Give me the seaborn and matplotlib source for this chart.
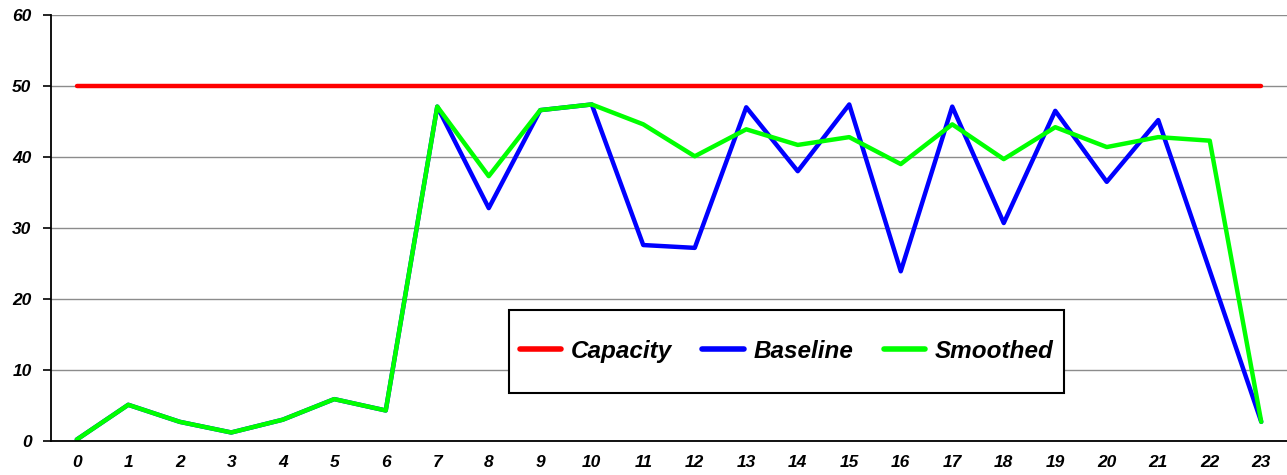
import numpy as np
import pandas as pd
import seaborn as sns
import matplotlib.pyplot as plt
from matplotlib.patches import Rectangle
from matplotlib.ticker import MultipleLocator, FixedLocator

# Values
hours = list(range(24))
capacity = [50] * 24
baseline = [0.2, 5.1, 2.7, 1.2, 3.0, 5.9, 4.3, 47.1, 32.8, 46.6, 47.4, 27.6,
            27.2, 47.0, 38.0, 47.4, 23.9, 47.1, 30.7, 46.5, 36.5, 45.2, 24.0, 2.7]
smoothed = [0.2, 5.1, 2.7, 1.2, 3.0, 5.9, 4.3, 47.1, 37.3, 46.6, 47.4, 44.6,
            40.1, 43.9, 41.7, 42.8, 39.0, 44.6, 39.7, 44.2, 41.4, 42.8, 42.3, 2.7]
series_names = ["Capacity", "Baseline", "Smoothed"]
colors = ["#ff0000", "#0000ff", "#00ff00"]

df = pd.DataFrame({
    "hour": hours * 3,
    "value": capacity + baseline + smoothed,
    "series": [s for s in series_names for _ in hours],
})

sns.set_theme(style="white")
plt.rcParams["font.family"] = ["Liberation Sans", "DejaVu Sans"]
plt.rcParams["text.color"] = "black"
plt.rcParams["xtick.color"] = "black"
plt.rcParams["ytick.color"] = "black"

W, H = 1287, 475
fig, ax = plt.subplots(figsize=(W / 100, H / 100), dpi=100)
fig.subplots_adjust(left=51 / W, right=1.0, top=1 - 15 / H, bottom=1 - 441 / H)

sns.lineplot(data=df, x="hour", y="value", hue="series", hue_order=series_names,
             palette=colors, linewidth=3.2, ax=ax, legend=True)

ax.set_xlim(-0.5, 23.5)
ax.set_ylim(0, 60)
ax.set_xlabel("")
ax.set_ylabel("")

# y axis: gridlines every 10
ax.yaxis.set_major_locator(MultipleLocator(10))
ax.grid(axis="y", color="#8c8c8c", linewidth=1.0)
ax.set_axisbelow(True)

# x axis: labels at category centres, ticks on category boundaries
ax.set_xticks(hours)
ax.xaxis.set_minor_locator(FixedLocator(np.arange(-0.5, 24, 1)))
ax.tick_params(axis="x", which="major", length=0, pad=10)
ax.tick_params(axis="x", which="minor", length=6, width=1.2, color="black", direction="out")
ax.tick_params(axis="y", which="major", length=6, width=1.2, color="black",
               direction="out", left=True, pad=8)

for lab in ax.get_xticklabels() + ax.get_yticklabels():
    lab.set_fontsize(12.5)
    lab.set_fontweight("bold")
    lab.set_fontstyle("italic")
    lab.set_color("black")

for side in ["top", "right"]:
    ax.spines[side].set_visible(False)
for side in ["left", "bottom"]:
    ax.spines[side].set_color("black")
    ax.spines[side].set_linewidth(1.3)

# legend box drawn separately so its padding matches the Excel-style frame
box_l, box_r, box_t, box_b = 509, 1064, 310, 393
fig.patches.append(Rectangle((box_l / W, 1 - box_b / H), (box_r - box_l) / W,
                             (box_b - box_t) / H, transform=fig.transFigure,
                             facecolor="white", edgecolor="black", linewidth=1.5,
                             zorder=3))

handles, labels = ax.get_legend_handles_labels()
ax.get_legend().remove()
leg = fig.legend(handles, labels, loc="center",
                 bbox_to_anchor=((box_l + box_r) / 2 / W, 1 - (box_t + box_b) / 2 / H),
                 ncol=3, frameon=False,
                 handlelength=1.7, handletextpad=0.4, columnspacing=1.25,
                 prop={"size": 17.5, "weight": "bold", "style": "italic"})
leg.set_zorder(5)
for line in leg.get_lines():
    line.set_linewidth(4)
for txt in leg.get_texts():
    txt.set_color("black")

plt.savefig("out.png", dpi=100)
